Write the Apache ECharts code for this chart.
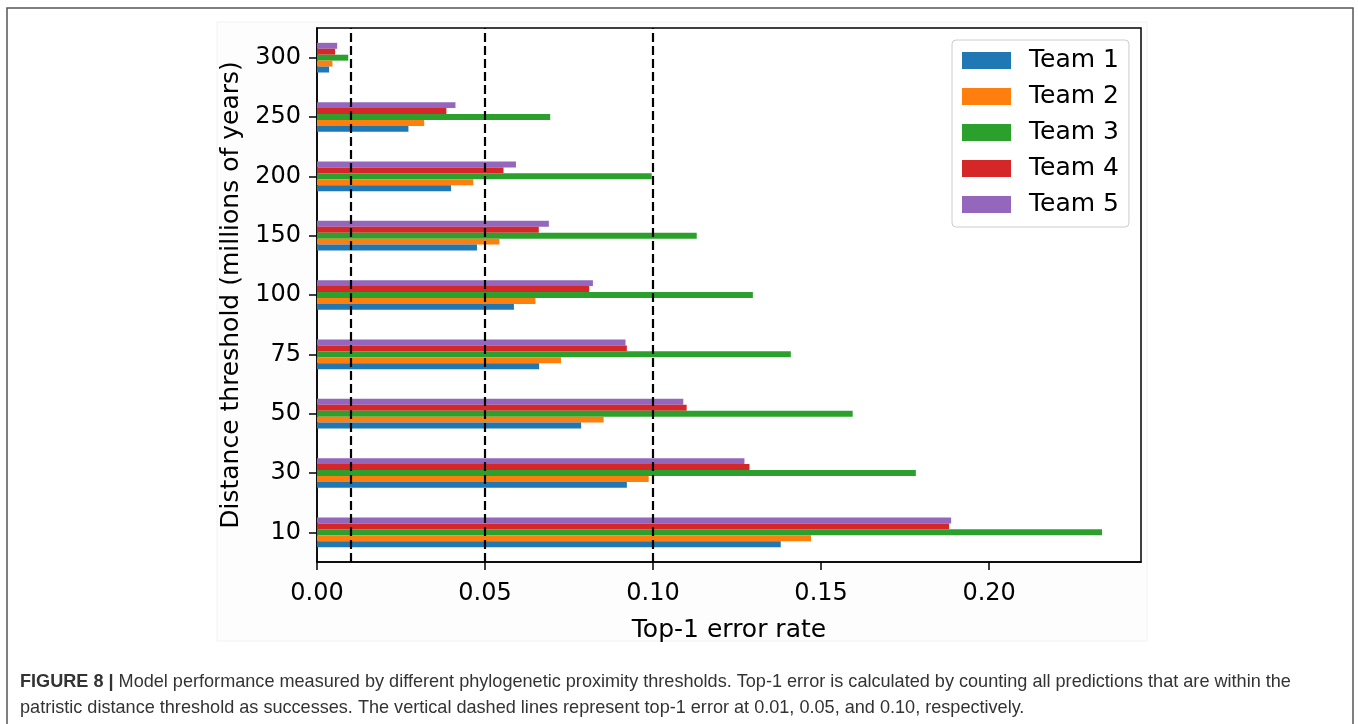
<!DOCTYPE html>
<html>
<head>
<meta charset="utf-8">
<script src="https://cdn.jsdelivr.net/npm/echarts@6/dist/echarts.min.js"></script>
<style>
  html, body { margin: 0; padding: 0; background: #fff; }
  #chart { width: 1358px; height: 724px; }
</style>
</head>
<body>
<div id="chart"></div>
<script>
// distance thresholds, bottom to top
const categories = ['10', '30', '50', '75', '100', '150', '200', '250', '300'];
const teamNames = ['Team 1', 'Team 2', 'Team 3', 'Team 4', 'Team 5'];
const team1 = [0.138, 0.0922, 0.0786, 0.0661, 0.0586, 0.0476, 0.0399, 0.0272, 0.0036];
const team2 = [0.147, 0.0987, 0.0853, 0.0726, 0.065, 0.0543, 0.0465, 0.0319, 0.0046];
const team3 = [0.2336, 0.1782, 0.1594, 0.141, 0.1297, 0.113, 0.0996, 0.0694, 0.0093];
const team4 = [0.1881, 0.1287, 0.110, 0.0922, 0.081, 0.066, 0.0555, 0.0385, 0.0054];
const team5 = [0.1887, 0.1272, 0.109, 0.0918, 0.0821, 0.069, 0.0592, 0.0412, 0.006];
const xTicks = [0, 0.05, 0.10, 0.15, 0.20];
const thresholds = [0.01, 0.05, 0.10];
const colors = ['#1f77b4', '#ff7f0e', '#2ca02c', '#d62728', '#9467bd'];

const font = 'DejaVu Sans';
const chart = echarts.init(document.getElementById('chart'), null, { renderer: 'canvas' });

const teams = [team1, team2, team3, team4, team5];
// echarts puts the first series at the top of a horizontal group,
// so feed them in reverse to get Team 1 at the bottom
const series = teams.map((vals, i) => ({
  name: teamNames[i],
  type: 'bar',
  data: vals,
  barGap: '0%',
  barCategoryGap: '50%',
  itemStyle: { color: colors[i] },
  animation: false
})).reverse();
// dashed reference lines
series[0].markLine = {
  silent: true,
  symbol: 'none',
  label: { show: false },
  lineStyle: { color: '#000', type: [9, 4], width: 2.2 },
  data: thresholds.map(v => ({ xAxis: v }))
};

const caption1 = 'Model performance measured by different phylogenetic proximity thresholds. Top-1 error is calculated by counting all predictions that are within the';
const caption2 = 'patristic distance threshold as successes. The vertical dashed lines represent top-1 error at 0.01, 0.05, and 0.10, respectively.';

chart.setOption({
  backgroundColor: '#fff',
  color: colors,
  animation: false,
  textStyle: { fontFamily: font },
  graphic: [
    { type: 'rect', z: -10, shape: { x: 7, y: 8, width: 1346, height: 760 },
      style: { fill: '#fff', stroke: '#555', lineWidth: 1.5 } },
    { type: 'rect', z: -9, shape: { x: 217, y: 22, width: 930, height: 619 },
      style: { fill: '#fdfdfd', stroke: '#f2f2f2', lineWidth: 1 } },
    { type: 'text', left: 20, top: 673,
      style: {
        text: '{b|FIGURE 8 |} ' + caption1,
        fill: '#333', font: '18.1px "Liberation Sans"',
        rich: { b: { fontWeight: 'bold', fontSize: 18.1, fontFamily: 'Liberation Sans', fill: '#333' } }
      } },
    { type: 'text', left: 20, top: 699,
      style: { text: caption2, fill: '#333', font: '18.1px "Liberation Sans"' } }
  ],
  grid: {
    left: 317, right: 217, top: 28, bottom: 162,
    show: true, borderColor: '#000', borderWidth: 1.5, backgroundColor: '#fff'
  },
  legend: {
    orient: 'vertical',
    left: 952, top: 40,
    data: teamNames,
    icon: 'rect',
    itemWidth: 49, itemHeight: 17,
    itemGap: 11,
    padding: [8, 10, 10, 10],
    borderColor: '#ccc', borderWidth: 1, borderRadius: 4,
    backgroundColor: '#fff',
    textStyle: { fontFamily: font, fontSize: 25, color: '#000', lineHeight: 25, padding: [0, 0, 0, 13] }
  },
  xAxis: {
    type: 'value',
    min: 0, max: 0.2452,
    name: 'Top-1 error rate',
    nameLocation: 'middle',
    nameGap: 56,
    nameTextStyle: { fontFamily: font, fontSize: 25, color: '#000' },
    axisLine: { show: true, lineStyle: { color: '#000', width: 1.5 } },
    axisTick: { show: true, length: 8, customValues: xTicks, lineStyle: { color: '#000', width: 1.5 } },
    axisLabel: {
      customValues: xTicks, margin: 20,
      fontFamily: font, fontSize: 24, color: '#000',
      formatter: v => v.toFixed(2)
    },
    splitLine: { show: false }
  },
  yAxis: {
    type: 'category',
    data: categories,
    name: 'Distance threshold (millions of years)',
    nameLocation: 'middle',
    nameGap: 73,
    nameTextStyle: { fontFamily: font, fontSize: 25, color: '#000' },
    axisLine: { show: true, lineStyle: { color: '#000', width: 1.5 } },
    axisTick: { show: true, alignWithLabel: true, length: 8, lineStyle: { color: '#000', width: 1.5 } },
    axisLabel: { margin: 16, fontFamily: font, fontSize: 24, color: '#000' },
    splitLine: { show: false }
  },
  series: series
});
</script>
</body>
</html>
